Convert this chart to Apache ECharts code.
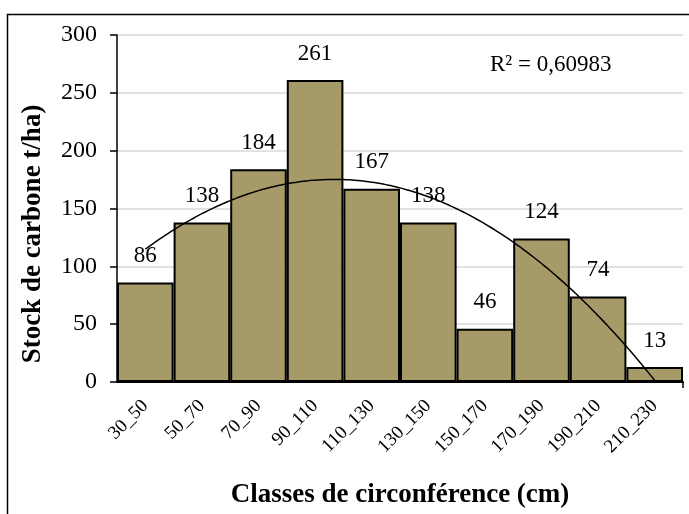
<!DOCTYPE html>
<html>
<head>
<meta charset="utf-8">
<script src="https://cdn.jsdelivr.net/npm/echarts@6/dist/echarts.min.js"></script>
<style>html,body{margin:0;padding:0;background:#fff;}#c{width:689px;height:514px;}</style>
</head>
<body>
<div id="c"></div>
<script>
const categories = ['30_50','50_70','70_90','90_110','110_130','130_150','150_170','170_190','190_210','210_230'];
const stockValues = [86,138,184,261,167,138,46,124,74,13];
const yTicks = [0,50,100,150,200,250,300];
const r2Text = 'R² = 0,60983';
const yTitle = 'Stock de carbone t/ha)';
const xTitle = 'Classes de circonférence (cm)';

// Polynomial (order 2) least-squares trend line, as in the original spreadsheet
function polyFit2(ys) {
  const n = ys.length;
  let S = [0,0,0,0,0], T = [0,0,0];
  for (let i = 0; i < n; i++) {
    const x = i + 1, y = ys[i];
    for (let k = 0; k < 5; k++) S[k] += Math.pow(x, k);
    for (let k = 0; k < 3; k++) T[k] += y * Math.pow(x, k);
  }
  const A = [[S[0],S[1],S[2],T[0]],[S[1],S[2],S[3],T[1]],[S[2],S[3],S[4],T[2]]];
  for (let i = 0; i < 3; i++) {
    for (let j = i + 1; j < 3; j++) {
      const f = A[j][i] / A[i][i];
      for (let k = i; k < 4; k++) A[j][k] -= f * A[i][k];
    }
  }
  const c = [0,0,0];
  for (let i = 2; i >= 0; i--) {
    let s = A[i][3];
    for (let k = i + 1; k < 3; k++) s -= A[i][k] * c[k];
    c[i] = s / A[i][i];
  }
  return c;
}
const coef = polyFit2(stockValues);
const trend = [];
for (let x = 1; x <= stockValues.length + 1e-9; x += 0.05) {
  trend.push([x, coef[0] + coef[1] * x + coef[2] * x * x]);
}

const font = '"Liberation Serif","Times New Roman",serif';
const chart = echarts.init(document.getElementById('c'));
chart.setOption({
  animation: false,
  textStyle: { fontFamily: font },
  grid: { left: 117, right: 6, top: 35, bottom: 132 },
  graphic: [
    { type: 'rect', left: 5, top: 12, shape: { x: 0, y: 0, width: 720, height: 540 },
      style: { fill: 'none', stroke: '#000', lineWidth: 1.5 }, silent: true, z: 0 },
    { type: 'text', left: 490, top: 53, style: { text: r2Text, font: '23px ' + font, fill: '#000' } },
    { type: 'text', x: 33, y: 234, rotation: Math.PI / 2,
      style: { text: yTitle, font: 'bold 27px ' + font, fill: '#000', align: 'center', verticalAlign: 'middle' } }
  ],
  xAxis: [
    {
      type: 'category', data: categories,
      axisLine: { lineStyle: { color: '#000', width: 2 } },
      axisTick: { alignWithLabel: true, length: 6, lineStyle: { color: '#000', width: 1.5 } },
      axisLabel: { rotate: 45, fontSize: 19, color: '#000', fontFamily: font, margin: 21 },
      name: xTitle, nameLocation: 'middle', nameGap: 100,
      nameTextStyle: { fontSize: 27, fontWeight: 'bold', color: '#000', fontFamily: font }
    },
    {
      type: 'value', min: 0.5, max: categories.length + 0.5, position: 'bottom',
      axisLine: { show: false }, axisLabel: { show: false }, splitLine: { show: false },
      axisTick: { show: true, length: 6, customValues: [categories.length + 0.5], lineStyle: { color: '#000', width: 1.5 } }
    }
  ],
  yAxis: {
    type: 'value', min: 0, max: 300, interval: 50,
    axisLine: { show: true, lineStyle: { color: '#000', width: 1.5 } },
    axisTick: { show: true, length: 7, lineStyle: { color: '#000', width: 1.5 } },
    axisLabel: { fontSize: 24, color: '#000', fontFamily: font, margin: 20 },
    splitLine: { lineStyle: { color: '#D9D9D9', width: 1.5 } }
  },
  series: [
    {
      type: 'bar', data: stockValues, barCategoryGap: '0%',
      itemStyle: { color: '#A59A68', borderColor: '#000', borderWidth: 2 },
      label: { show: true, position: 'top', distance: 15, fontSize: 23, color: '#000', fontFamily: font }
    },
    {
      type: 'line', xAxisIndex: 1, data: trend, showSymbol: false, symbol: 'none',
      lineStyle: { color: '#000', width: 1.5 }, z: 3, silent: true
    }
  ]
});
</script>
</body>
</html>
